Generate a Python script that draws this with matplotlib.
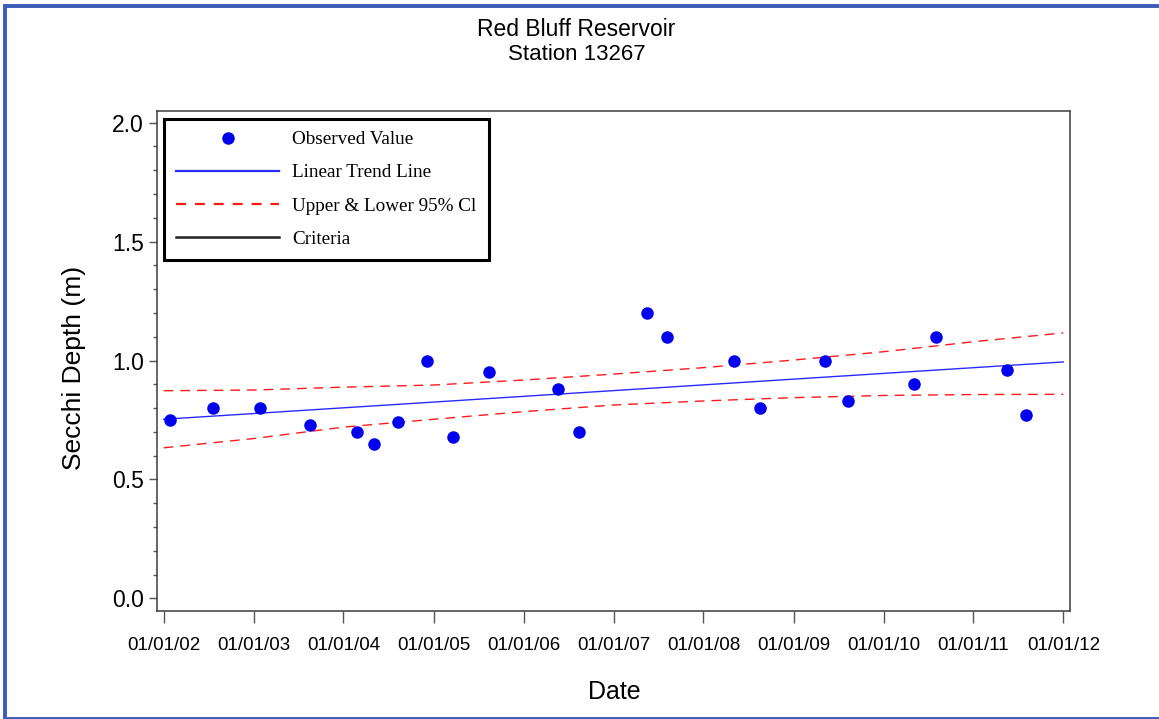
import matplotlib
matplotlib.use('Agg')
import matplotlib.pyplot as plt
import matplotlib.dates as mdates
from matplotlib.lines import Line2D
from matplotlib.patches import Rectangle
from matplotlib.ticker import MultipleLocator
import pandas as pd

# ---- data ----
obs_dates = ['2002-01-28', '2002-07-22', '2003-01-29', '2003-08-18', '2004-02-24',
             '2004-05-05', '2004-08-08', '2004-12-04', '2005-03-20', '2005-08-14',
             '2006-05-22', '2006-08-14', '2007-05-15', '2007-08-07', '2008-05-05',
             '2008-08-16', '2009-05-10', '2009-08-08', '2010-05-06', '2010-08-01',
             '2011-05-17', '2011-08-04']
obs_depth = [0.75, 0.80, 0.80, 0.73, 0.70, 0.65, 0.74, 1.00, 0.68, 0.95,
             0.88, 0.70, 1.20, 1.10, 1.00, 0.80, 1.00, 0.83, 0.90, 1.10,
             0.96, 0.77]

trend_dates = ['2002-01-01', '2012-01-01']
trend_depth = [0.753, 0.994]

ci_dates = ['2002-01-01', '2003-01-01', '2004-01-01', '2005-01-01', '2006-01-01',
            '2007-01-01', '2008-01-01', '2009-01-01', '2010-01-01', '2011-01-01',
            '2012-01-01']
ci_upper = [0.873, 0.876, 0.888, 0.897, 0.918, 0.943, 0.970, 1.002, 1.037, 1.079, 1.116]
ci_lower = [0.633, 0.672, 0.720, 0.753, 0.785, 0.813, 0.830, 0.844, 0.853, 0.857, 0.858]

tick_dates = ['2002-01-01', '2003-01-01', '2004-01-01', '2005-01-01', '2006-01-01',
              '2007-01-01', '2008-01-01', '2009-01-01', '2010-01-01', '2011-01-01',
              '2012-01-01']
y_ticks = [0.0, 0.5, 1.0, 1.5, 2.0]

legend_labels = ['Observed Value', 'Linear Trend Line', 'Upper & Lower 95% Cl', 'Criteria']

title_lines = ['Red Bluff Reservoir', 'Station 13267']

# ---- figure ----
SANS = 'Liberation Sans'
SERIF = 'Liberation Serif'
W, H = 1159, 719
fig = plt.figure(figsize=(W / 100, H / 100), dpi=100)
ax = fig.add_axes([157 / W, 1 - 611 / H, (1070 - 157) / W, (611 - 111) / H])

od = pd.to_datetime(obs_dates)
td = pd.to_datetime(trend_dates)
cd = pd.to_datetime(ci_dates)

ax.plot(td, trend_depth, color='#2a2aff', lw=1.0, zorder=2)
ax.plot(cd, ci_upper, color='#ff1a1a', lw=1.0, dashes=(7, 5), zorder=2)
ax.plot(cd, ci_lower, color='#ff1a1a', lw=1.0, dashes=(7, 5), zorder=2)
ax.plot(od, obs_depth, 'o', color='#0000f0', ms=8, mec='#0000f0', zorder=3)

ax.set_xlim(pd.Timestamp('2001-12-05'), pd.Timestamp('2012-01-28'))
ax.set_ylim(-0.053, 2.049)

ax.set_xticks(pd.to_datetime(tick_dates))
ax.xaxis.set_major_formatter(mdates.DateFormatter('%m/%d/%y'))
ax.set_yticks(y_ticks)
ax.set_yticklabels([f'{v:.1f}' for v in y_ticks])
ax.yaxis.set_minor_locator(MultipleLocator(0.1))

spine_c = '#3c3c3c'
for s in ax.spines.values():
    s.set_color(spine_c)
    s.set_linewidth(1.1)

ax.tick_params(axis='x', which='major', direction='out', length=8.5, width=1,
               color='#555555', pad=10, labelsize=13.5, labelcolor='black')
ax.tick_params(axis='y', which='major', direction='out', length=5.5, width=1,
               color='#555555', pad=4, labelsize=16.5, labelcolor='black')
ax.tick_params(axis='y', which='minor', direction='out', length=3.2, width=1,
               color='#555555')
for lab in ax.get_xticklabels() + ax.get_yticklabels():
    lab.set_fontfamily(SANS)

# ---- legend (proxy handles) ----
handles = [
    Line2D([], [], ls='none', marker='o', color='#0000f0', ms=8),
    Line2D([], [], color='#2a2aff', lw=1.6),
    Line2D([], [], color='#ff1a1a', lw=1.6, dashes=(4.5, 4)),
    Line2D([], [], color='#222222', lw=1.8),
]
leg = ax.legend(handles, legend_labels, loc='upper left',
                bbox_to_anchor=((164 - 157) / 913, (611 - 119) / 500),
                borderaxespad=0, prop={'family': SERIF, 'size': 13.8},
                handlelength=5.4, handletextpad=0.68, labelspacing=0.82,
                borderpad=0.62, fancybox=False, framealpha=1, numpoints=1)
leg.get_frame().set_edgecolor('black')
leg.get_frame().set_linewidth(2.2)

# ---- titles and axis labels ----
fig.text(576.5 / W, 1 - 36 / H, title_lines[0], ha='center', va='baseline',
         family=SANS, fontsize=16.5)
fig.text(576.5 / W, 1 - 60 / H, title_lines[1], ha='center', va='baseline',
         family=SANS, fontsize=16)
fig.text(74 / W, 1 - 368 / H, 'Secchi Depth (m)', rotation=90, ha='center',
         va='center', family=SANS, fontsize=19)
fig.text(614.5 / W, 1 - 692 / H, 'Date', ha='center', va='center',
         family=SANS, fontsize=18)

# ---- blue outer border ----
fig.patches.append(Rectangle((5 / W, 1 - 718.5 / H), (1170 - 5) / W, (718.5 - 6) / H,
                             transform=fig.transFigure, fill=False,
                             edgecolor='#3b5cb8', lw=2.8, zorder=10))

fig.savefig('out.png', dpi=100)
